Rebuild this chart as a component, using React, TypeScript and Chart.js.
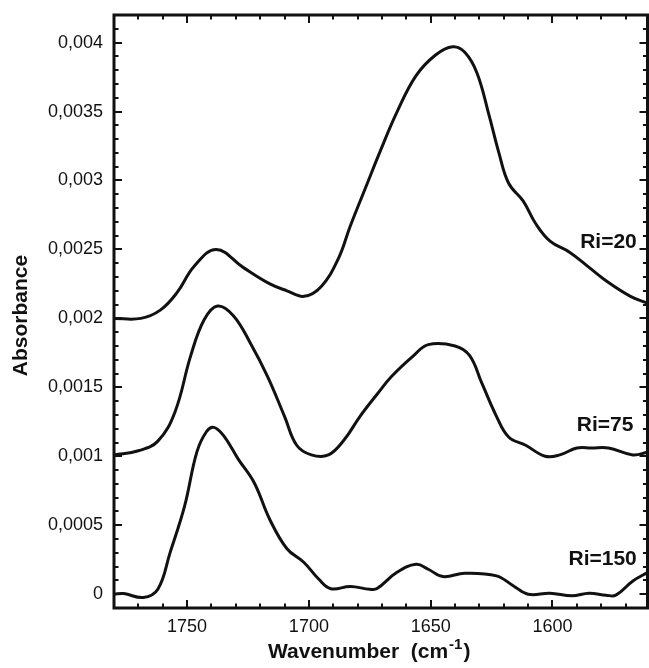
import React, { useEffect, useRef } from "react";
import { Chart, registerables } from "chart.js";

Chart.register(...registerables);

// ---- Data ----
const ri20Wavenumber = [1780, 1769, 1761, 1754, 1747, 1738, 1727, 1716, 1709, 1702, 1695, 1688, 1683, 1676, 1671, 1664, 1656, 1648, 1641, 1636, 1631, 1626, 1622, 1618, 1612, 1607, 1601, 1593, 1585, 1577, 1568, 1561];
const ri20Absorbance = [0.002, 0.002, 0.00206, 0.00219, 0.00238, 0.0025, 0.00237, 0.00225, 0.0022, 0.00216, 0.00223, 0.00243, 0.00267, 0.00298, 0.0032, 0.00349, 0.00376, 0.00391, 0.00397, 0.00393, 0.00378, 0.00347, 0.0032, 0.00298, 0.00285, 0.00269, 0.00256, 0.00248, 0.00237, 0.00226, 0.00216, 0.00211];

const ri75Wavenumber = [1780, 1770, 1762, 1755, 1748.5, 1743, 1737.5, 1731, 1724, 1717, 1710, 1705, 1699, 1692, 1685.5, 1679, 1672, 1666, 1657, 1651, 1640, 1634, 1629, 1623, 1618, 1611, 1603, 1597, 1590, 1584, 1577, 1567, 1561];
const ri75Absorbance = [0.00101, 0.00104, 0.00111, 0.00132, 0.00173, 0.00199, 0.00209, 0.00202, 0.00182, 0.00158, 0.00129, 0.00108, 0.00101, 0.00101, 0.00112, 0.00129, 0.00145, 0.00158, 0.00173, 0.00181, 0.0018, 0.00173, 0.00153, 0.00129, 0.00114, 0.00108, 0.001, 0.00101, 0.00106, 0.00106, 0.00106, 0.00101, 0.00103];

const ri150Wavenumber = [1780, 1776, 1768, 1762, 1757, 1751, 1746, 1742, 1739, 1735, 1729, 1722.5, 1716, 1709, 1702, 1696, 1691, 1683, 1675, 1672, 1664, 1656, 1651, 1645, 1636, 1623, 1616, 1610, 1601, 1592, 1585, 1578, 1574, 1567, 1561];
const ri150Absorbance = [0.0, 0.000005, -0.000024, 0.000036, 0.0003, 0.00064, 0.00103, 0.00118, 0.00121, 0.00115, 0.00098, 0.00081, 0.00054, 0.00033, 0.00023, 0.00011, 0.00004, 0.000056, 0.000036, 0.000041, 0.000157, 0.000217, 0.000181, 0.000128, 0.000152, 0.000133, 0.00006, 0.0, 0.000007, -0.000012, 0.000007, -0.000007, -0.000007, 0.000096, 0.000157];

const seriesNames = ["Ri=20", "Ri=75", "Ri=150"];
const labelWavenumber = [1565.4, 1566.8, 1565.4];
const labelAbsorbance = [0.00255, 0.001225, 0.000254];

const xTickValues = [1750, 1700, 1650, 1600];
const yTickValues = [0, 0.0005, 0.001, 0.0015, 0.002, 0.0025, 0.003, 0.0035, 0.004];
const yTickLabels = ["0", "0,0005", "0,001", "0,0015", "0,002", "0,0025", "0,003", "0,0035", "0,004"];

const xTitle = "Wavenumber  (cm";
const xTitleSup = "-1";
const xTitleEnd = ")";
const yTitle = "Absorbance";

const FONT = '"Liberation Sans", Arial, Helvetica, sans-serif';
const INK = "#111";

function toPoints(xs: number[], ys: number[]) {
  return xs.map((x, i) => ({ x, y: ys[i] }));
}

const framePlugin = {
  id: "framePlugin",
  afterDraw(chart: any) {
    const { ctx, chartArea: a, scales } = chart;
    const xs = scales.x;
    const ys = scales.y;
    ctx.save();
    ctx.strokeStyle = INK;
    ctx.fillStyle = INK;

    // ticks, inward, on all four sides
    ctx.lineWidth = 2;
    ctx.beginPath();
    for (let k = 157; k <= 177; k++) {
      const w = k * 10;
      const len = w % 50 === 0 ? 8 : 4.5;
      const px = Math.round(xs.getPixelForValue(w));
      ctx.moveTo(px, a.bottom);
      ctx.lineTo(px, a.bottom - len);
      ctx.moveTo(px, a.top);
      ctx.lineTo(px, a.top + len);
    }
    for (let k = 0; k <= 41; k++) {
      const v = k * 0.0001;
      const len = k % 5 === 0 ? 8 : 4.5;
      const py = Math.round(ys.getPixelForValue(v));
      ctx.moveTo(a.left, py);
      ctx.lineTo(a.left + len, py);
      ctx.moveTo(a.right, py);
      ctx.lineTo(a.right - len, py);
    }
    ctx.stroke();

    // frame
    ctx.lineWidth = 3;
    ctx.strokeRect(a.left, a.top, a.right - a.left, a.bottom - a.top);

    // series labels
    ctx.font = `bold 21px ${FONT}`;
    ctx.textAlign = "right";
    ctx.textBaseline = "middle";
    seriesNames.forEach((name, i) => {
      ctx.fillText(name, xs.getPixelForValue(labelWavenumber[i]), ys.getPixelForValue(labelAbsorbance[i]));
    });

    // y axis title
    ctx.save();
    ctx.translate(27, (a.top + a.bottom) / 2 + 4);
    ctx.rotate(-Math.PI / 2);
    ctx.textAlign = "center";
    ctx.textBaseline = "alphabetic";
    ctx.font = `bold 21px ${FONT}`;
    ctx.fillText(yTitle, 0, 0);
    ctx.restore();

    // x axis title with superscript
    ctx.textAlign = "left";
    ctx.textBaseline = "alphabetic";
    let tx = 268;
    const ty = 658;
    ctx.font = `bold 21px ${FONT}`;
    ctx.fillText(xTitle, tx, ty);
    tx += ctx.measureText(xTitle).width + 1;
    ctx.font = `bold 15px ${FONT}`;
    ctx.fillText(xTitleSup, tx, ty - 9);
    tx += ctx.measureText(xTitleSup).width + 1;
    ctx.font = `bold 21px ${FONT}`;
    ctx.fillText(xTitleEnd, tx, ty);

    ctx.restore();
  },
};

export default function App() {
  const ref = useRef<HTMLCanvasElement | null>(null);

  useEffect(() => {
    if (!ref.current) return;
    const lineStyle = {
      borderColor: INK,
      borderWidth: 3,
      pointRadius: 0,
      tension: 0.4,
      fill: false,
    };
    const chart = new Chart(ref.current, {
      type: "line",
      data: {
        datasets: [
          { label: seriesNames[0], data: toPoints(ri20Wavenumber, ri20Absorbance), ...lineStyle },
          { label: seriesNames[1], data: toPoints(ri75Wavenumber, ri75Absorbance), ...lineStyle },
          { label: seriesNames[2], data: toPoints(ri150Wavenumber, ri150Absorbance), ...lineStyle },
        ],
      },
      options: {
        animation: false,
        responsive: false,
        devicePixelRatio: 1,
        layout: { padding: { left: 0, right: 1.5, top: 15, bottom: 0 } },
        plugins: { legend: { display: false }, tooltip: { enabled: false } },
        scales: {
          x: {
            type: "linear",
            position: "bottom",
            reverse: true,
            min: 1561,
            max: 1780,
            grid: { display: false, drawTicks: false },
            border: { display: false },
            afterBuildTicks: (scale: any) => {
              scale.ticks = xTickValues.map((value) => ({ value }));
            },
            afterFit: (scale: any) => {
              scale.height = 60;
              scale.paddingLeft = 0;
              scale.paddingRight = 0;
            },
            ticks: {
              padding: 8,
              maxRotation: 0,
              autoSkip: false,
              color: INK,
              font: { family: FONT, size: 18 },
              callback: (value: any) => String(value),
            },
          },
          y: {
            type: "linear",
            position: "left",
            min: -0.0001,
            max: 0.0042,
            grid: { display: false, drawTicks: false },
            border: { display: false },
            afterBuildTicks: (scale: any) => {
              scale.ticks = yTickValues.map((value) => ({ value }));
            },
            afterFit: (scale: any) => {
              scale.width = 114;
              scale.paddingTop = 0;
              scale.paddingBottom = 0;
            },
            ticks: {
              padding: 11,
              autoSkip: false,
              color: INK,
              font: { family: FONT, size: 18 },
              callback: (_value: any, index: number) => yTickLabels[index],
            },
          },
        },
      },
      plugins: [framePlugin],
    });
    return () => chart.destroy();
  }, []);

  return (
    <div style={{ position: "absolute", left: 0, top: 0, width: 649, height: 668, background: "#fff" }}>
      <canvas ref={ref} width={649} height={668} style={{ display: "block", width: 649, height: 668 }} />
    </div>
  );
}
